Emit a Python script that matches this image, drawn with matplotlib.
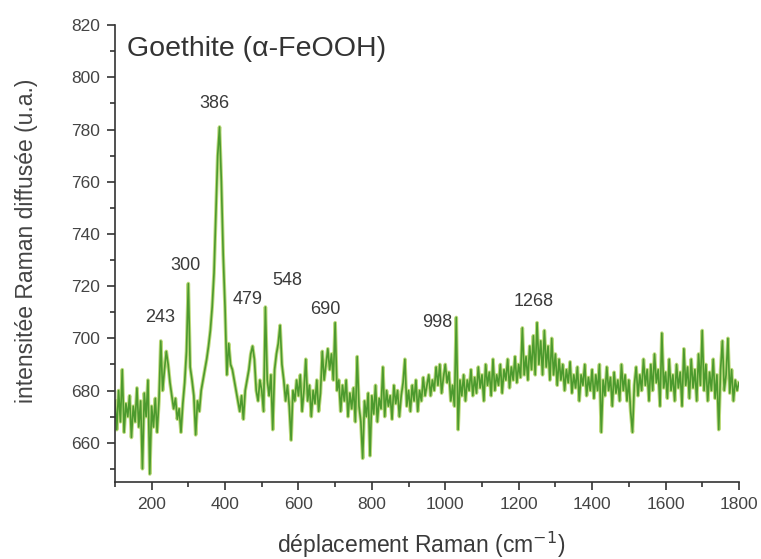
import numpy as np
import matplotlib
matplotlib.use("Agg")
import matplotlib.pyplot as plt

plt.rcParams['font.family'] = ['Liberation Sans', 'DejaVu Sans']

# Raman shift grid (cm-1), one reading every 5 cm-1
shift = np.arange(100, 1805, 5)

# intensity, one row per 100 cm-1
intensity = [
    676, 665, 680, 668, 688, 664, 675, 670, 678, 662, 674, 668, 681, 666, 676, 650, 679, 670, 684, 648,
    674, 666, 677, 664, 676, 699, 680, 688, 695, 690, 683, 678, 673, 677, 669, 673, 664, 675, 683, 695,
    721, 689, 684, 678, 663, 676, 672, 680, 684, 688, 692, 697, 703, 712, 725, 748, 770, 781, 760, 732,
    712, 686, 698, 690, 688, 684, 680, 676, 672, 678, 669, 680, 684, 688, 694, 697, 692, 680, 676, 684,
    680, 672, 712, 684, 678, 686, 665, 688, 694, 698, 705, 690, 684, 676, 682, 674, 661, 680, 676, 684,
    678, 686, 672, 680, 692, 676, 682, 670, 680, 675, 684, 672, 679, 695, 684, 690, 696, 688, 694, 684,
    706, 680, 684, 672, 682, 676, 684, 670, 679, 673, 681, 668, 693, 674, 668, 654, 676, 670, 679, 655,
    678, 671, 682, 668, 677, 673, 689, 670, 680, 674, 678, 669, 682, 675, 680, 670, 678, 683, 692, 674,
    680, 672, 682, 676, 684, 672, 680, 676, 685, 678, 682, 686, 678, 684, 680, 689, 682, 690, 679, 685,
    690, 683, 687, 676, 682, 674, 708, 665, 684, 678, 686, 676, 684, 680, 688, 678, 685, 679, 689, 681,
    686, 676, 690, 682, 687, 678, 692, 680, 686, 682, 690, 679, 688, 684, 692, 681, 689, 684, 693, 683,
    690, 685, 704, 686, 693, 684, 697, 688, 701, 686, 706, 690, 699, 686, 703, 689, 697, 684, 700, 686,
    694, 682, 692, 684, 690, 680, 688, 683, 691, 679, 686, 681, 689, 676, 686, 682, 690, 678, 685, 680,
    688, 677, 686, 680, 690, 664, 684, 678, 689, 680, 685, 674, 687, 679, 684, 676, 690, 680, 686, 676,
    684, 672, 664, 682, 689, 678, 686, 680, 692, 682, 688, 676, 690, 680, 694, 683, 688, 674, 702, 681,
    687, 677, 692, 680, 686, 676, 690, 681, 687, 674, 696, 682, 689, 677, 692, 681, 688, 676, 694, 682,
    703, 680, 690, 676, 687, 680, 692, 677, 686, 665, 688, 699, 680, 686, 700, 679, 688, 676, 684, 680,
    683,
]

peak_pos = [386, 300, 243, 479, 548, 690, 998, 1268]
peak_label_x = [372, 293, 223, 462, 569, 672, 977, 1242]
peak_label_y = [790, 728, 708, 715, 722, 711, 706, 714]

fig = plt.figure(figsize=(7.61, 5.59), dpi=100)
ax = fig.add_axes([0.151, 0.138, 0.82, 0.817])

ax.plot(shift, intensity, color="#b3d56a", lw=2.6, alpha=0.85)
ax.plot(shift, intensity, color="#4c9a2e", lw=1.2)

for p, lx, ly in zip(peak_pos, peak_label_x, peak_label_y):
    ax.text(lx, ly, str(p), fontsize=13, color="#3a3a3a", ha="center", va="center")

ax.text(133, 811, "Goethite (α-FeOOH)", fontsize=20.5, color="#333333", ha="left", va="center")

ax.set_xlim(100, 1800)
ax.set_ylim(645, 820)
ax.set_xticks(np.arange(200, 1801, 200))
ax.set_xticks(np.arange(100, 1801, 100), minor=True)
ax.set_yticks(np.arange(660, 821, 20))
ax.set_yticks(np.arange(650, 821, 10), minor=True)

for s in ["top", "right"]:
    ax.spines[s].set_visible(False)
for s in ["left", "bottom"]:
    ax.spines[s].set_color("#333333")
    ax.spines[s].set_linewidth(1.2)

ax.tick_params(which="major", direction="out", length=6, width=1.2, color="#333333",
               labelsize=12.5, labelcolor="#444444", pad=5)
ax.tick_params(which="minor", direction="out", length=3.5, width=1.2, color="#333333")

ax.set_xlabel("déplacement Raman (cm$^{-1}$)", fontsize=16.5, color="#3a3a3a", va="center")
ax.xaxis.set_label_coords(0.49, -0.138)
ax.set_ylabel("intensitée Raman diffusée (u.a.)", fontsize=16.5, color="#444444", va="center")
ax.yaxis.set_label_coords(-0.141, 0.527)

fig.savefig("out.png", dpi=100)
